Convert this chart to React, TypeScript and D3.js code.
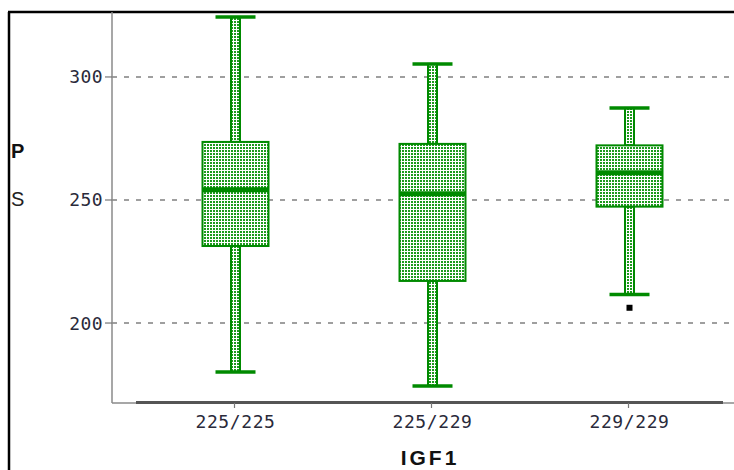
import * as d3 from "d3";

// categories and the box statistics
const categories = ["225/225", "225/229", "229/229"];
const whiskerHigh = [324.4, 305.3, 287.4];
const q3 = [273.6, 272.8, 272.2];
const median = [254.2, 252.5, 261.1];
const q1 = [231.3, 217.1, 247.3];
const whiskerLow = [180.1, 174.4, 211.6];
const outliers = [{ cat: "229/229", value: 206.2 }];
const yTicks = [200, 250, 300];

const W = 734;
const H = 470;
const green = "#008a00";

export default function App() {
  const x = d3.scaleBand().domain(categories).range([137, 728]).padding(0);
  const y = d3.scaleLinear().domain([167.5, 326.4]).range([403, 12]);

  const bw = x.bandwidth();
  const boxW = bw * 0.335;
  const capW = 40;
  const stemW = 9;

  const tickFont = "'DejaVu Sans Mono', monospace";

  return (
    <svg
      width={W}
      height={H}
      style={{ position: "absolute", left: 0, top: 0, background: "#fff" }}
    >
      <defs>
        <pattern id="dots" width={3} height={3} patternUnits="userSpaceOnUse">
          <rect width={3} height={3} fill="#fff" />
          <rect width={2} height={2} fill="#1e9a1e" />
        </pattern>
      </defs>

      {/* frame */}
      <line x1={8} x2={W} y1={12} y2={12} stroke="#000" strokeWidth={2.5} />
      <line x1={9} x2={9} y1={12} y2={H} stroke="#000" strokeWidth={2.5} />

      {/* grid lines */}
      {yTicks.map((t) => (
        <line
          key={"g" + t}
          x1={112}
          x2={W}
          y1={y(t)}
          y2={y(t)}
          stroke="#808080"
          strokeWidth={1.5}
          strokeDasharray="5,7"
        />
      ))}

      {/* axes */}
      <line x1={112} x2={112} y1={12} y2={403} stroke="#8a8a8a" strokeWidth={1.5} />
      <line x1={112} x2={W} y1={403} y2={403} stroke="#8a8a8a" strokeWidth={1.5} />
      <line x1={136} x2={723} y1={402.5} y2={402.5} stroke="#555" strokeWidth={3} />

      {yTicks.map((t) => (
        <g key={"t" + t}>
          <line x1={105} x2={112} y1={y(t)} y2={y(t)} stroke="#777" strokeWidth={1.2} />
          <text
            x={103}
            y={y(t) + 6.5}
            textAnchor="end"
            fontFamily={tickFont}
            fontSize={18}
            letterSpacing={0.4}
            fill="#2a2a3a"
          >
            {t}
          </text>
        </g>
      ))}

      {categories.map((c) => {
        const cx = (x(c) as number) + bw / 2;
        return (
          <g key={"x" + c}>
            <line x1={cx - 1} x2={cx - 1} y1={403} y2={408} stroke="#777" strokeWidth={1.2} />
            <text
              x={cx}
              y={428}
              textAnchor="middle"
              fontFamily={tickFont}
              fontSize={18}
              letterSpacing={0.6}
              fill="#2a2a3a"
            >
              {c}
            </text>
          </g>
        );
      })}

      {/* axis titles */}
      <text
        x={430}
        y={465}
        textAnchor="middle"
        fontFamily="'Liberation Sans Narrow', 'Liberation Sans', sans-serif"
        fontWeight="bold"
        fontSize={21}
        letterSpacing={3}
        fill="#111"
      >
        IGF1
      </text>
      <text x={11} y={158} fontFamily="'Liberation Sans', Arial, sans-serif" fontWeight="bold" fontSize={20} fill="#111">
        P
      </text>
      <text x={11} y={206} fontFamily="'Liberation Sans', Arial, sans-serif" fontSize={20} fill="#222">
        S
      </text>

      {/* boxes */}
      {categories.map((c, i) => {
        const cx = (x(c) as number) + bw / 2;
        return (
          <g key={"b" + c}>
            <rect
              x={cx - stemW / 2}
              y={y(whiskerHigh[i])}
              width={stemW}
              height={y(q3[i]) - y(whiskerHigh[i])}
              fill="url(#dots)"
              stroke={green}
              strokeWidth={2}
            />
            <rect
              x={cx - stemW / 2}
              y={y(q1[i])}
              width={stemW}
              height={y(whiskerLow[i]) - y(q1[i])}
              fill="url(#dots)"
              stroke={green}
              strokeWidth={2}
            />
            <line
              x1={cx - capW / 2}
              x2={cx + capW / 2}
              y1={y(whiskerHigh[i])}
              y2={y(whiskerHigh[i])}
              stroke={green}
              strokeWidth={3.5}
            />
            <line
              x1={cx - capW / 2}
              x2={cx + capW / 2}
              y1={y(whiskerLow[i])}
              y2={y(whiskerLow[i])}
              stroke={green}
              strokeWidth={3.5}
            />
            <rect
              x={cx - boxW / 2}
              y={y(q3[i])}
              width={boxW}
              height={y(q1[i]) - y(q3[i])}
              fill="url(#dots)"
              stroke={green}
              strokeWidth={2}
            />
            <line
              x1={cx - boxW / 2}
              x2={cx + boxW / 2}
              y1={y(median[i])}
              y2={y(median[i])}
              stroke={green}
              strokeWidth={5}
            />
          </g>
        );
      })}

      {outliers.map((o, i) => (
        <rect
          key={"o" + i}
          x={(x(o.cat) as number) + bw / 2 - 3}
          y={y(o.value) - 3}
          width={6}
          height={6}
          fill="#000"
        />
      ))}
    </svg>
  );
}
